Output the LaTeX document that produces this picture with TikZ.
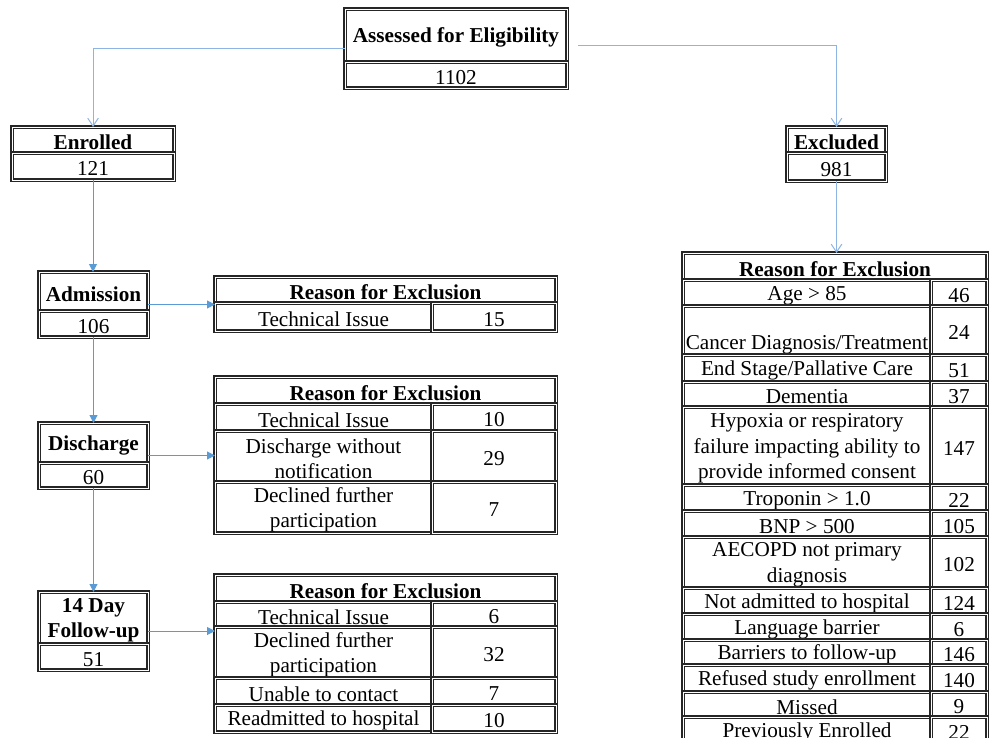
\documentclass[tikz,border=0pt]{standalone}
\usepackage{fontspec}
\setmainfont{Liberation Serif}
\usetikzlibrary{arrows.meta}
\definecolor{lnk}{HTML}{5B9BD5}
\definecolor{lnktop}{HTML}{8DB4E2}
\tikzset{
  frame/.style={draw=black!85, double=white, double distance=0.6pt, line width=0.9pt,
    inner sep=0pt, outer sep=0pt},
  txt/.style={inner sep=0pt, align=center, font=\fontsize{15.9}{19.3}\selectfont},
  btxt/.style={txt, font=\fontsize{15.9}{19.3}\selectfont\bfseries},
  flow/.style={draw=lnk, line width=0.75pt, -{Triangle[length=6pt,width=6pt]}},
  flowtop/.style={draw=lnktop, line width=0.75pt, -{Straight Barb[length=6pt,width=8pt]}},
}
% \cellbox[text style]{name}{x1}{y1}{x2}{y2}{text}   (coordinates in pixels)
\newcommand\cellbox[7][txt]{%
  \pgfmathsetmacro\cbw{(#5-#3)*0.75}%
  \pgfmathsetmacro\cbh{(#6-#4)*0.75}%
  \node[frame, minimum width=\cbw pt, minimum height=\cbh pt] (#2) at ({(#3+#5)/2},{(#4+#6)/2}) {};
  \node[#1] (#2t) at ([yshift=-1.7pt]#2.center) {#7};}
\newcommand\outerbox[5]{%
  \pgfmathsetmacro\cbw{(#4-#2)*0.75}%
  \pgfmathsetmacro\cbh{(#5-#3)*0.75}%
  \node[frame, minimum width=\cbw pt, minimum height=\cbh pt] (#1) at ({(#2+#4)/2},{(#3+#5)/2}) {};}
\begin{document}
\begin{tikzpicture}[x=0.75pt,y=-0.75pt]
\useasboundingbox (0,0) rectangle (989,738);
\clip (0,0) rectangle (989,738);

% top box
\outerbox{assess}{345}{9}{567}{88}
\cellbox[btxt]{assessH}{345}{9}{567}{62}{Assessed for Eligibility}
\cellbox{assessN}{345}{62}{567}{88}{1102}

% enrolled
\outerbox{enr}{12}{127}{174}{180}
\cellbox[btxt]{enrH}{12}{127}{174}{153}{Enrolled}
\cellbox{enrN}{12}{153}{174}{180}{121}

% excluded
\outerbox{exc}{787}{127}{886}{181}
\cellbox[btxt]{excH}{787}{127}{886}{153}{Excluded}
\cellbox{excN}{787}{153}{886}{181}{981}

% admission
\outerbox{adm}{39}{272}{148}{337}
\cellbox[btxt]{admH}{39}{272}{148}{311}{Admission}
\cellbox{admN}{39}{311}{148}{337}{106}

% discharge
\outerbox{dis}{39}{423}{148}{488}
\cellbox[btxt]{disH}{39}{423}{148}{463}{Discharge}
\cellbox{disN}{39}{463}{148}{488}{60}

% follow-up
\outerbox{fu}{39}{592}{148}{670}
\cellbox[btxt]{fuH}{39}{592}{148}{644}{14 Day\\Follow-up}
\cellbox{fuN}{39}{644}{148}{670}{51}

% table 1
\outerbox{t1}{215}{277}{556}{331}
\cellbox[btxt]{t1H}{215}{277}{556}{303}{Reason for Exclusion}
\cellbox{t1a}{215}{303}{432}{331}{Technical Issue}
\cellbox{t1b}{432}{303}{556}{331}{15}

% table 2
\outerbox{t2}{215}{377}{556}{533}
\cellbox[btxt]{t2H}{215}{377}{556}{404}{Reason for Exclusion}
\cellbox{t2a}{215}{404}{432}{431}{Technical Issue}
\cellbox{t2an}{432}{404}{556}{431}{10}
\cellbox{t2b}{215}{431}{432}{482}{Discharge without\\notification}
\cellbox{t2bn}{432}{431}{556}{482}{29}
\cellbox{t2c}{215}{482}{432}{533}{Declined further\\participation}
\cellbox{t2cn}{432}{482}{556}{533}{7}

% table 3
\outerbox{t3}{215}{575}{556}{732}
\cellbox[btxt]{t3H}{215}{575}{556}{602}{Reason for Exclusion}
\cellbox{t3a}{215}{602}{432}{627}{Technical Issue}
\cellbox{t3an}{432}{602}{556}{627}{6}
\cellbox{t3b}{215}{627}{432}{678}{Declined further\\participation}
\cellbox{t3bn}{432}{627}{556}{678}{32}
\cellbox{t3c}{215}{678}{432}{705}{Unable to contact}
\cellbox{t3cn}{432}{678}{556}{705}{7}
\cellbox{t3d}{215}{705}{432}{732}{Readmitted to hospital}
\cellbox{t3dn}{432}{705}{556}{732}{10}

% big table
\outerbox{bt}{683}{253}{987}{743}
\cellbox[btxt]{btH}{683}{253}{987}{280}{Reason for Exclusion}
\cellbox{b1}{683}{280}{931}{306}{Age > 85}
\cellbox{b1n}{931}{280}{987}{306}{46}
\outerbox{b2}{683}{306}{931}{355}
\node[txt, anchor=base] (b2t) at ([yshift=4pt]b2.south) {Cancer Diagnosis/Treatment};
\cellbox{b2n}{931}{306}{987}{355}{24}
\cellbox{b3}{683}{355}{931}{382}{End Stage/Pallative Care}
\cellbox{b3n}{931}{355}{987}{382}{51}
\cellbox{b4}{683}{382}{931}{407}{Dementia}
\cellbox{b4n}{931}{382}{987}{407}{37}
\cellbox{b5}{683}{407}{931}{485}{Hypoxia or respiratory\\failure impacting ability to\\provide informed consent}
\cellbox{b5n}{931}{407}{987}{485}{147}
\cellbox{b6}{683}{485}{931}{511}{Troponin > 1.0}
\cellbox{b6n}{931}{485}{987}{511}{22}
\cellbox{b7}{683}{511}{931}{537}{BNP > 500}
\cellbox{b7n}{931}{511}{987}{537}{105}
\cellbox{b8}{683}{537}{931}{588}{AECOPD not primary\\diagnosis}
\cellbox{b8n}{931}{537}{987}{588}{102}
\cellbox{b9}{683}{588}{931}{614}{Not admitted to hospital}
\cellbox{b9n}{931}{588}{987}{614}{124}
\cellbox{b10}{683}{614}{931}{640}{Language barrier}
\cellbox{b10n}{931}{614}{987}{640}{6}
\cellbox{b11}{683}{640}{931}{665}{Barriers to follow-up}
\cellbox{b11n}{931}{640}{987}{665}{146}
\cellbox{b12}{683}{665}{931}{692}{Refused study enrollment}
\cellbox{b12n}{931}{665}{987}{692}{140}
\cellbox{b13}{683}{692}{931}{717}{Missed}
\cellbox{b13n}{931}{692}{987}{717}{9}
\cellbox{b14}{683}{717}{931}{743}{Previously Enrolled}
\cellbox{b14n}{931}{717}{987}{743}{22}

% connectors
\draw[flowtop] (assess.west) -| (enr.north);
\draw[flowtop] ([shift={(11,-3)}]assess.east) -| (exc.north);
\draw[flowtop] (exc.south) -- (exc.south |- bt.north);
\draw[flow] (enr.south) -- (enr.south |- adm.north);
\draw[flow] (adm.south) -- (adm.south |- dis.north);
\draw[flow] (dis.south) -- (dis.south |- fu.north);
\draw[flow] (adm.east) -- (adm.east -| t1.west);
\draw[flow] (dis.east) -- (dis.east -| t2.west);
\draw[flow] (fu.east) -- (fu.east -| t3.west);
\end{tikzpicture}
\end{document}
